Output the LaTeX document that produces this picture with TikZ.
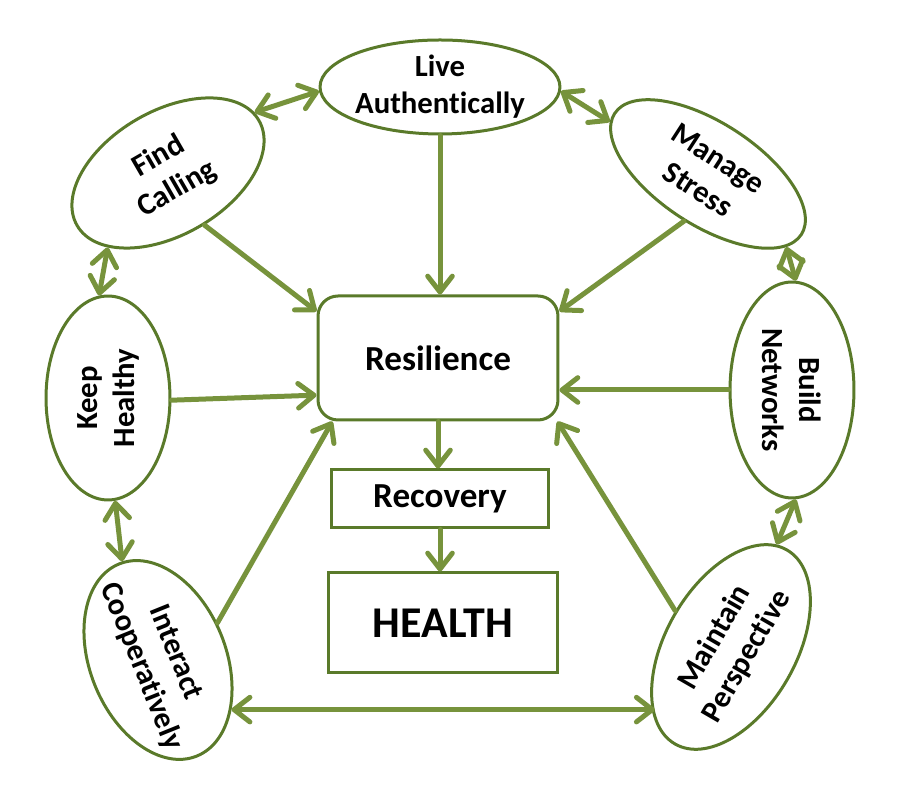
\documentclass[tikz,border=0pt]{standalone}
\usepackage{fontspec}
\setmainfont{Carlito}[Ligatures=NoCommon]
\usetikzlibrary{shapes,arrows.meta}

\definecolor{rimgreen}{HTML}{5A7A2A}
\definecolor{linkgreen}{HTML}{77933C}

\begin{document}
\begin{tikzpicture}[x=0.02cm, y=0.02cm,
    >={Straight Barb[length=9pt, width=14pt, round]},
    bubble/.style={ellipse, draw=rimgreen, line width=0.06cm, fill=white, inner xsep=-0.3cm, inner ysep=-0.2cm, align=center, font=\fontsize{17.5}{21}\selectfont\bfseries},
    box/.style={rectangle, draw=rimgreen, line width=0.06cm, fill=white, inner sep=0pt, font=\fontsize{20}{24}\selectfont\bfseries},
    link/.style={->, draw=linkgreen, line width=0.1cm, line cap=round},
    both/.style={<->, draw=linkgreen, line width=0.1cm, line cap=round}]

    \useasboundingbox (0,0) rectangle (900,800);

    \node[bubble, minimum width=4.8cm, minimum height=1.88cm] (live) at (440,713) {Live\\Authentically};
    \node[bubble, rotate=30, minimum width=4.2cm, minimum height=2.48cm] (find) at (168,627) {Find\\Calling};
    \node[bubble, rotate=-33, minimum width=4.45cm, minimum height=2.05cm] (stress) at (708,626) {Manage\\Stress};
    \node[bubble, rotate=90, minimum width=4.08cm, minimum height=2.48cm] (keep) at (108,402) {Keep\\Healthy};
    \node[bubble, rotate=-90, minimum width=4.32cm, minimum height=2.48cm] (build) at (792,410) {Build\\Networks};
    \node[bubble, rotate=-68, minimum width=4.0cm, minimum height=2.72cm] (inter) at (158,140) {Interact\\Cooperatively};
    \node[bubble, rotate=60, minimum width=4.48cm, minimum height=2.6cm] (maint) at (731,153) {Maintain\\Perspective};

    \node[box, rounded corners=0.4cm, minimum width=4.8cm, minimum height=2.48cm] (res) at (438,442) {Resilience};
    \node[box, minimum width=4.36cm, minimum height=1.16cm] (rec) at (440,301) {Recovery};
    \node[box, minimum width=4.6cm, minimum height=2.0cm, font=\fontsize{25}{29}\selectfont\bfseries] (health) at (443,177) {HEALTH};

    \draw[both] (live.182) -- (find.5);
    \draw[both] (live.-2) -- (stress.185);
    \draw[link] (live.south) -- (live.south |- res.north);
    \draw[link] (find.-85) -- (res.159);
    \draw[link] (stress.276) -- (res.21);
    \draw[both] (find.201) -- (keep.5);
    \draw[both] (stress.-10) -- (build.178);
    \draw[link] (keep.268) -- (res.197);
    \draw[link] (build.270) -- (build.270 -| res.east);
    \draw[both] (keep.184) -- (inter.178);
    \draw[both] (build.2) -- (maint.6);
    \draw[link] (inter.100) -- (res.211);
    \draw[link] (maint.87) -- (res.-28);
    \draw[both] (inter.34) -- (inter.34 -| maint.164);
    \draw[link] (res.south) -- (res.south |- rec.north);
    \draw[link] (rec.south) -- (rec.south |- health.north);
\end{tikzpicture}
\end{document}
